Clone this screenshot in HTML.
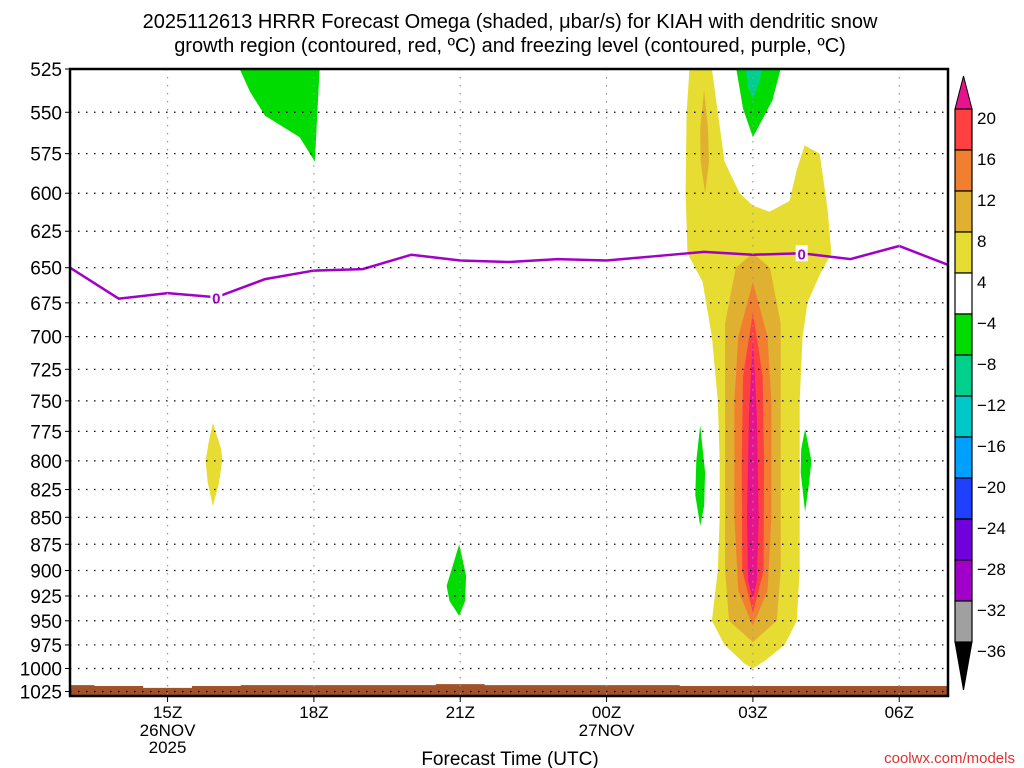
<!DOCTYPE html>
<html><head><meta charset="utf-8"><style>
html,body{margin:0;padding:0;background:#fff;}
svg{display:block;font-family:"Liberation Sans","DejaVu Sans",sans-serif;}
</style></head><body>
<svg id="chart" width="1024" height="768" xmlns="http://www.w3.org/2000/svg">
<text x="510" y="28" font-size="20" text-anchor="middle" fill="#000">2025112613 HRRR Forecast Omega (shaded, μbar/s) for KIAH with dendritic snow</text>
<text x="510" y="52" font-size="20" text-anchor="middle" fill="#000">growth region (contoured, red, ºC) and freezing level (contoured, purple, ºC)</text>
<g id="plot"></g>
<g id="cbar"></g>
<text x="510" y="765" font-size="19" text-anchor="middle">Forecast Time (UTC)</text>
<text x="1015" y="763" font-size="15" text-anchor="end" fill="#e03030">coolwx.com/models</text>
</svg>
<script>
const pLevels=[525,550,575,600,625,650,675,700,725,750,775,800,825,850,875,900,925,950,975,1000,1025];
const timeTicks=[15,18,21,24,27,30];
const timeLabels=["15Z","18Z","21Z","00Z","03Z","06Z"];
const dateLabels={15:["26NOV","2025"],24:["27NOV"]};
// freezing level (hPa) hourly, 13Z..31Z
const flHours=[13,14,15,16,17,18,19,20,21,22,23,24,25,26,27,28,29,30,31];
const flPres=[650,672,668,671,658,652,651,641,645,646,644,645,642,639,641,640,644,635,648];
// surface pressure
const sfcHours=[13,14,15,16,17,18,19,20,21,22,23,24,25,26,27,28,29,30,31];
const sfcPres=[1018,1019,1021,1019,1018,1018,1018,1018,1017,1018,1018,1018,1018,1019,1019,1019,1019,1019,1019];
// shaded omega regions
const regionColors=["#00dc00","#e6dc32","#00dc00","#00d08c","#e6dc32","#e0b030","#e0b030","#f08030","#ff4040","#e6148c","#00dc00","#00dc00","#00dc00"];
const regionNames=["green-blob-17z","yellow-diamond-16z","green-top-03z","teal-top-03z","yellow-plume","orange-strip-02z","light-orange-core","orange-core","red-core","magenta-core","green-21z","green-02z","green-04z"];
const regionPts=[
 [[16.48,525],[18.12,525],[18.08,545],[18.02,580],[17.71,565],[17.0,552],[16.69,538]],
 [[15.93,768],[16.1,790],[16.12,800],[16.05,820],[15.93,840],[15.82,818],[15.78,800],[15.84,785]],
 [[26.66,525],[27.57,525],[27.4,543],[27.0,565],[26.8,548]],
 [[26.85,525],[27.2,525],[27.1,535],[27.0,542],[26.9,535]],
 [[25.70,525],[25.64,550],[25.62,600],[25.66,640],[25.97,660],[26.16,700],[26.28,750],[26.32,800],[26.32,850],[26.28,900],[26.16,950],[26.42,975],[26.83,995],[27.0,1000],[27.24,992],[27.65,975],[27.90,950],[27.96,900],[27.96,850],[27.96,800],[27.96,750],[28.02,700],[28.12,675],[28.37,655],[28.61,640],[28.53,610],[28.37,575],[28.06,570],[27.9,585],[27.75,605],[27.34,612],[27.0,608],[26.73,600],[26.42,580],[26.28,550],[26.16,525]],
 [[26.0,537],[26.08,560],[26.1,580],[26.02,600],[25.93,580],[25.92,560]],
 [[27.0,640],[27.35,650],[27.57,690],[27.57,800],[27.57,900],[27.49,950],[27.0,972],[26.51,950],[26.43,900],[26.43,800],[26.43,690],[26.65,650]],
 [[27.0,660],[27.3,700],[27.38,750],[27.38,850],[27.3,920],[27.0,955],[26.7,920],[26.62,850],[26.62,750],[26.7,700]],
 [[27.0,682],[27.2,730],[27.23,800],[27.22,900],[27.0,942],[26.78,900],[26.77,800],[26.8,730]],
 [[27.0,700],[27.08,760],[27.12,850],[27.08,910],[27.0,928],[26.9,910],[26.88,850],[26.92,760]],
 [[20.98,875],[21.12,905],[21.1,930],[20.98,945],[20.78,930],[20.72,915],[20.85,895]],
 [[25.92,770],[26.02,810],[26.0,840],[25.92,858],[25.82,830],[25.84,800]],
 [[28.07,773],[28.2,800],[28.15,820],[28.07,845],[27.98,810],[27.99,790]]
];
const cbLevels=[20,16,12,8,4,-4,-8,-12,-16,-20,-24,-28,-32,-36];
const cbColors=["#ff4040","#f08030","#e0b030","#e6dc32","#ffffff","#00dc00","#00d08c","#00c8c8","#00a0ff","#2040ff","#7000dc","#a000c8","#a0a0a0"];

const X0=70,X1=948,Y0=69,Y1=696,H0=13,H1=31,P0=525,P1=1030;
const xs=h=>X0+(h-H0)/(H1-H0)*(X1-X0);
const ys=p=>Y0+Math.log(p/P0)/Math.log(P1/P0)*(Y1-Y0);
const NS="http://www.w3.org/2000/svg";
function mk(tag,attrs,parent){const e=document.createElementNS(NS,tag);for(const k in attrs)e.setAttribute(k,attrs[k]);parent.appendChild(e);return e;}
const plotG=document.getElementById('plot');
const clipEl=mk('clipPath',{id:'pc'},plotG);mk('rect',{x:X0,y:Y0,width:X1-X0,height:Y1-Y0},clipEl);
const g=mk('g',{'clip-path':'url(#pc)'},plotG);
regionPts.forEach((pts,i)=>{
 const d=pts.map((q,j)=>(j?'L':'M')+xs(q[0]).toFixed(1)+','+ys(q[1]).toFixed(1)).join('')+'Z';
 const e=mk('path',{d:d,fill:regionColors[i]},g);
 
 
});
let gd='M'+xs(sfcHours[0])+','+Y1;
sfcHours.forEach((h,i)=>{const x0=xs(h-0.5),x1=xs(h+0.5);gd+='L'+x0+','+ys(sfcPres[i])+'L'+x1+','+ys(sfcPres[i]);});
gd+='L'+X1+','+Y1+'Z';
const ground=mk('path',{d:gd,fill:'#a0522d'},g);


pLevels.forEach(p=>{
 const l=mk('line',{x1:X0,x2:X1,y1:ys(p),y2:ys(p),stroke:'#000','stroke-width':1.2,'stroke-dasharray':'1.5 6.5'},plotG);
 
 
 mk('line',{x1:X0-5,x2:X0,y1:ys(p),y2:ys(p),stroke:'#000'},plotG);
 const t=mk('text',{x:X0-8,y:ys(p)+7,'font-size':19,'text-anchor':'end'},plotG);t.textContent=p;
 
 
});
timeTicks.forEach((h,i)=>{
 const l=mk('line',{x1:xs(h),x2:xs(h),y1:Y0,y2:Y1,stroke:'#999','stroke-width':1.2,'stroke-dasharray':'1.5 6.5'},plotG);
 
 
 mk('line',{x1:xs(h),x2:xs(h),y1:Y1,y2:Y1+6,stroke:'#000'},plotG);
 const t=mk('text',{x:xs(h),y:718,'font-size':17,'text-anchor':'middle'},plotG);t.textContent=timeLabels[i];
 
 
 (dateLabels[h]||[]).forEach((s,k)=>{const d=mk('text',{x:xs(h),y:736+k*17,'font-size':17,'text-anchor':'middle'},plotG);d.textContent=s;
  
  });
});
const fl=mk('polyline',{points:flHours.map((h,i)=>xs(h)+','+ys(flPres[i])).join(' '),fill:'none',stroke:'#a000c8','stroke-width':2.5},g);


[[16.0,671],[28.0,640]].forEach(q=>{
 mk('rect',{x:xs(q[0])-6,y:ys(q[1])-8,width:12,height:16,fill:'#fff'},g);
 const t=mk('text',{x:xs(q[0]),y:ys(q[1])+6,'font-size':15,'font-weight':'bold','text-anchor':'middle',fill:'#a000c8'},g);t.textContent='0';
 
 
});
const frame=mk('rect',{x:X0,y:Y0,width:X1-X0,height:Y1-Y0,fill:'none',stroke:'#000','stroke-width':2.5},plotG);


const cbG=document.getElementById('cbar');
const CX=955,CW=17,CT=109,CB=642,step=(CB-CT)/cbColors.length;
const cbTopArrow=mk('polygon',{points:`${CX},${CT} ${CX+CW},${CT} ${CX+CW/2},76`,fill:'#e6148c',stroke:'#000'},cbG);


cbColors.forEach((c,i)=>{const r=mk('rect',{x:CX,y:CT+i*step,width:CW,height:step,fill:c,stroke:'#000','stroke-width':1.2},cbG);
 
 });
const cbBotArrow=mk('polygon',{points:`${CX},${CB} ${CX+CW},${CB} ${CX+CW/2},690`,fill:'#000',stroke:'#000'},cbG);


cbLevels.forEach((v,i)=>{const t=mk('text',{x:977,y:CT+i*step+15,'font-size':17},cbG);t.textContent=v<0?'−'+(-v):v;
 
 });
</script>
</body></html>
